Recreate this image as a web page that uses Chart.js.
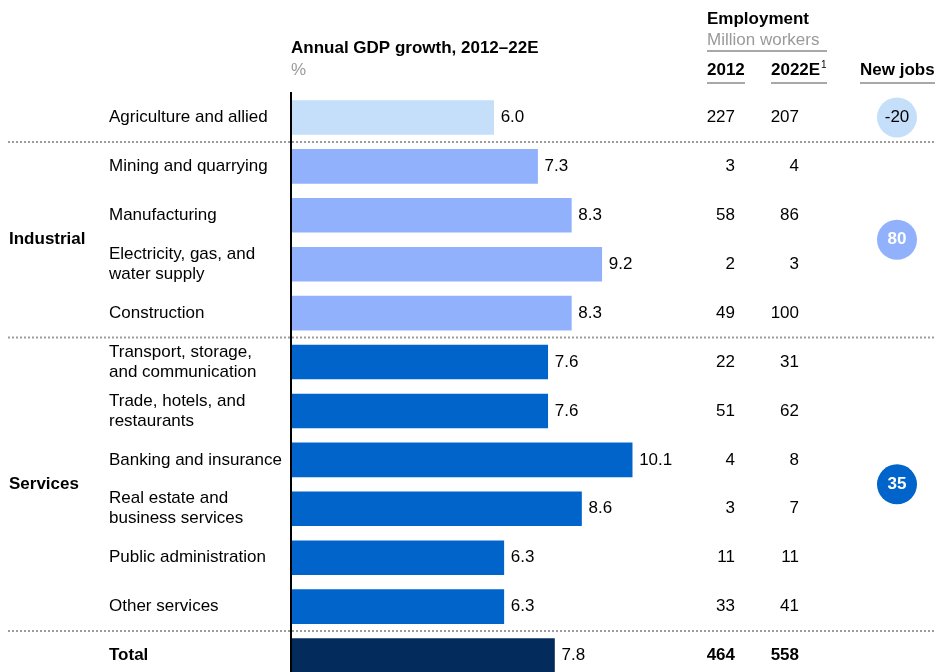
<!DOCTYPE html>
<html>
<head>
<meta charset="utf-8">
<script src="https://cdn.jsdelivr.net/npm/chart.js@4.4.0/dist/chart.umd.min.js"></script>
<style>
html, body { margin: 0; padding: 0; background: #fff; overflow: hidden; }
canvas { display: block; }
</style>
</head>
<body>
<canvas id="gdpChart" width="935" height="680"></canvas>
<script>
// Data
const sectors = [
    'Agriculture and allied',
    'Mining and quarrying',
    'Manufacturing',
    ['Electricity, gas, and', 'water supply'],
    'Construction',
    ['Transport, storage,', 'and communication'],
    ['Trade, hotels, and', 'restaurants'],
    'Banking and insurance',
    ['Real estate and', 'business services'],
    'Public administration',
    'Other services',
    'Total'
];
const gdpGrowth = [6.0, 7.3, 8.3, 9.2, 8.3, 7.6, 7.6, 10.1, 8.6, 6.3, 6.3, 7.8];
const employment2012 = [227, 3, 58, 2, 49, 22, 51, 4, 3, 11, 33, 464];
const employment2022 = [207, 4, 86, 3, 100, 31, 62, 8, 7, 11, 41, 558];
const rowGroup = [0, 1, 1, 1, 1, 2, 2, 2, 2, 2, 2, 3];

const groupLabels = ['', 'Industrial', 'Services'];
const groupFirstRow = [0, 1, 5];
const groupLastRow = [0, 4, 10];
const newJobs = [-20, 80, 35];

// Style
const FONT = "'Liberation Sans', Arial, sans-serif";
const SIZE = 17;
const groupColors = ['#c5dffa', '#92b1fd', '#0064cb', '#032b5c'];
const GREY = '#9a9a9a';
const LINE_GREY = '#a8a8a8';
const COL_2012 = 735;
const COL_2022 = 799;
const COL_JOBS = 897;

function txt(ctx, s, x, y, opts) {
    opts = opts || {};
    ctx.font = (opts.bold ? 'bold ' : '') + (opts.size || SIZE) + 'px ' + FONT;
    ctx.fillStyle = opts.color || '#000';
    ctx.textAlign = opts.align || 'left';
    ctx.textBaseline = 'middle';
    ctx.fillText(s, x, y);
}

function hline(ctx, x1, x2, y, dotted) {
    ctx.save();
    ctx.beginPath();
    ctx.strokeStyle = dotted ? '#9c9c9c' : LINE_GREY;
    ctx.lineWidth = 2;
    if (dotted) ctx.setLineDash([2, 2]);
    ctx.moveTo(x1, y);
    ctx.lineTo(x2, y);
    ctx.stroke();
    ctx.restore();
}

const tablePlugin = {
    id: 'tablePlugin',
    afterDatasetsDraw(chart) {
        const ctx = chart.ctx;
        const y = chart.scales.y;
        const area = chart.chartArea;
        const bars = chart.getDatasetMeta(0).data;
        const rowY = i => y.getPixelForValue(i);

        // Separatory kropkowane
        for (let i = 1; i < sectors.length; i++) {
            if (rowGroup[i] !== rowGroup[i - 1]) {
                hline(ctx, 8, 935, (rowY(i) + rowY(i - 1)) / 2, true);
            }
        }

        // Oś pionowa
        ctx.save();
        ctx.beginPath();
        ctx.strokeStyle = '#000';
        ctx.lineWidth = 2;
        ctx.moveTo(area.left, area.top - 1);
        ctx.lineTo(area.left, area.bottom);
        ctx.stroke();
        ctx.restore();

        // Wiersze
        sectors.forEach((label, i) => {
            const cy = rowY(i);
            const isTotal = rowGroup[i] === 3;
            if (Array.isArray(label)) {
                txt(ctx, label[0], 109, cy - 10);
                txt(ctx, label[1], 109, cy + 10);
            } else {
                txt(ctx, label, 109, cy, { bold: isTotal });
            }
            txt(ctx, gdpGrowth[i].toFixed(1), bars[i].x + 7, cy);
            txt(ctx, String(employment2012[i]), COL_2012, cy, { align: 'right', bold: isTotal });
            txt(ctx, String(employment2022[i]), COL_2022, cy, { align: 'right', bold: isTotal });
        });

        // Grupy i nowe miejsca pracy
        groupLabels.forEach((g, k) => {
            const cy = (rowY(groupFirstRow[k]) + rowY(groupLastRow[k])) / 2;
            if (g) txt(ctx, g, 9, cy, { bold: true });
            ctx.beginPath();
            ctx.fillStyle = groupColors[k];
            ctx.arc(COL_JOBS, cy, 20, 0, Math.PI * 2);
            ctx.fill();
            txt(ctx, String(newJobs[k]), COL_JOBS, cy, {
                align: 'center',
                bold: k > 0,
                color: k > 0 ? '#fff' : '#000'
            });
        });

        // Nagłówki
        txt(ctx, 'Annual GDP growth, 2012\u201322E', 291, 48, { bold: true });
        txt(ctx, '%', 291, 70, { color: GREY });
        txt(ctx, 'Employment', 707, 19, { bold: true });
        txt(ctx, 'Million workers', 707, 40, { color: GREY });
        hline(ctx, 707, 827, 51, false);
        txt(ctx, '2012', 707, 70, { bold: true });
        txt(ctx, '2022E', 771, 70, { bold: true });
        txt(ctx, '1', 821, 65, { size: 10 });
        txt(ctx, 'New jobs', 860, 70, { bold: true });
        hline(ctx, 707, 745, 83, false);
        hline(ctx, 771, 827, 83, false);
        hline(ctx, 860, 935, 83, false);
    }
};

new Chart(document.getElementById('gdpChart'), {
    type: 'bar',
    data: {
        labels: sectors,
        datasets: [{
            data: gdpGrowth,
            backgroundColor: rowGroup.map(g => groupColors[g]),
            borderWidth: 0,
            barThickness: 34
        }]
    },
    options: {
        indexAxis: 'y',
        responsive: false,
        animation: false,
        devicePixelRatio: 1,
        layout: { padding: { left: 291, top: 93, right: 36, bottom: 0 } },
        scales: {
            x: { display: false, min: 0, max: 18 },
            y: { display: false }
        },
        plugins: {
            legend: { display: false },
            tooltip: { enabled: false }
        }
    },
    plugins: [tablePlugin]
});
</script>
</body>
</html>
